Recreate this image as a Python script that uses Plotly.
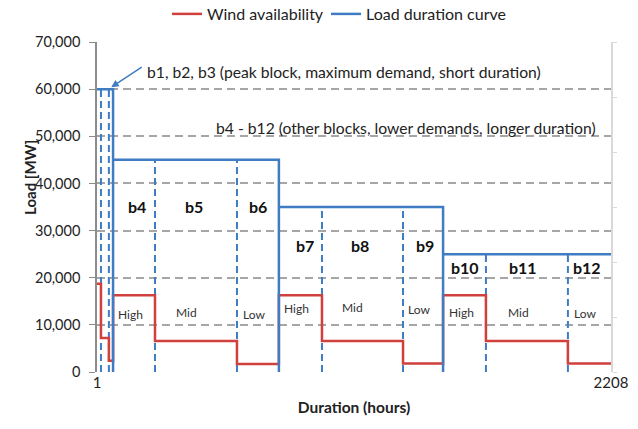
import plotly.graph_objects as go

# ---------------- data ----------------
block_names = ["b1", "b2", "b3", "b4", "b5", "b6", "b7", "b8", "b9", "b10", "b11", "b12"]
block_edges_hours = [1, 18, 52, 70, 250, 602, 782, 967, 1315, 1487, 1671, 2023, 2208]
load_mw = [60000, 60000, 60000, 45000, 45000, 45000, 35000, 35000, 35000, 25000, 25000, 25000]
wind_mw = [18700, 7200, 2400, 16300, 6600, 1700, 16300, 6600, 1800, 16300, 6600, 1800]

# block label positions (hours, MW)
block_label_x = [173, 418, 692, 894, 1130, 1410, 1581, 1830, 2105]
block_label_y = [35200, 35200, 35200, 26900, 26900, 26900, 22100, 22100, 22100]

level_labels = ["High", "Mid", "Low", "High", "Mid", "Low", "High", "Mid", "Low"]
level_label_x = [146, 387, 675, 856, 1099, 1385, 1567, 1810, 2096]
level_label_y = [12300, 12600, 12100, 13400, 13600, 13300, 12600, 12600, 12400]

x_tick_vals = [1, 2208]
y_tick_vals = [0, 10000, 20000, 30000, 40000, 50000, 60000, 70000]

BLUE = "#3f7cc4"
RED = "#d0403c"
GRID = "#a6a6a6"
FONT = "Lato"

W, H = 638, 429
PL, PT, PW, PH = 97, 42, 514, 330

# ---------------- build paths ----------------
lx, ly = [block_edges_hours[0]], [load_mw[0]]
for i in range(len(load_mw)):
    e = block_edges_hours[i + 1]
    if i + 1 < len(load_mw) and load_mw[i + 1] != load_mw[i]:
        lx += [e, e, e]
        ly += [load_mw[i], 0, load_mw[i + 1]]
lx.append(block_edges_hours[-1])
ly.append(load_mw[-1])

dx, dy = [], []
for i in range(len(load_mw) - 1):
    if load_mw[i + 1] == load_mw[i]:
        e = block_edges_hours[i + 1]
        dx += [e, e, None]
        dy += [0, load_mw[i], None]

wx = block_edges_hours[:-1] + [block_edges_hours[-1]]
wy = wind_mw + [wind_mw[-1]]

fig = go.Figure()
fig.add_trace(go.Scatter(x=dx, y=dy, mode="lines", showlegend=False,
                         line=dict(color=BLUE, width=2, dash="7px,4px"), hoverinfo="skip"))
fig.add_trace(go.Scatter(x=wx, y=wy, mode="lines", name="Wind availability", legend="legend",
                         line=dict(color=RED, width=2.5, shape="hv")))
fig.add_trace(go.Scatter(x=lx, y=ly, mode="lines", name="Load duration curve", legend="legend2",
                         line=dict(color=BLUE, width=2.5)))
fig.add_trace(go.Scatter(x=[None], y=[None], yaxis="y2", showlegend=False))


def px(xp):
    return (xp - PL) / PW


def py(yp):
    return (PT + PH - yp) / PH


ann = []
for name, x, y in zip(block_names[3:], block_label_x, block_label_y):
    ann.append(dict(x=x, y=y, text="<b>" + name + "</b>", showarrow=False,
                    font=dict(family=FONT, size=16, color="#111111")))
for t, x, y in zip(level_labels, level_label_x, level_label_y):
    ann.append(dict(x=x, y=y, text=t, showarrow=False,
                    font=dict(family=FONT, size=12, color="#333333")))

ann.append(dict(xref="paper", yref="paper", x=px(343.5), y=py(61), xanchor="center",
                text="b1, b2, b3 (peak block, maximum demand, short duration)",
                showarrow=False, font=dict(family=FONT, size=15.7, color="#222222")))
ann.append(dict(xref="paper", yref="paper", x=px(406), y=py(117), xanchor="center",
                text="b4 - b12 (other blocks, lower demands, longer duration)",
                showarrow=False, font=dict(family=FONT, size=15.7, color="#222222")))
ann.append(dict(x=62, y=60400, text="", showarrow=True, ax=32, ay=-21,
                arrowhead=2, arrowsize=1, arrowwidth=1.5, arrowcolor=BLUE))
ann.append(dict(xref="paper", yref="paper", x=px(30), y=py(178),
                xanchor="center", yanchor="middle",
                text="<b>Load [MW]</b>", textangle=-90, showarrow=False,
                font=dict(family=FONT, size=15, color="#222222")))

legend_font = dict(family=FONT, size=16, color="#222222")

fig.update_layout(
    width=W, height=H,
    margin=dict(l=PL, r=W - PL - PW, t=PT, b=H - PT - PH, autoexpand=False),
    paper_bgcolor="white", plot_bgcolor="white",
    font=dict(family=FONT, size=15, color="#222222"),
    xaxis=dict(range=[1, 2208], tickvals=x_tick_vals, ticktext=[str(v) for v in x_tick_vals],
               showgrid=False, zeroline=False, showline=False, ticks="",
               tickfont=dict(size=15),
               title=dict(text="<b>Duration (hours)</b>", standoff=12,
                          font=dict(family=FONT, size=15.5, color="#222222"))),
    yaxis=dict(range=[0, 70000], tickvals=y_tick_vals, tickformat=",d",
               tickfont=dict(size=14.5),
               showgrid=True, gridcolor=GRID, gridwidth=1.5, griddash="8px,5px",
               zeroline=False, showline=True, linecolor="#8c8c8c", linewidth=1.5,
               ticks="outside", ticklen=6, tickcolor="#8c8c8c", ticklabelstandoff=6),
    yaxis2=dict(overlaying="y", side="right", range=[0, 3], dtick=0.5,
                showgrid=False, zeroline=False, showline=True, linecolor="#d9d9d9",
                linewidth=1.5, ticks="outside", ticklen=4, tickcolor="#d9d9d9",
                showticklabels=False),
    legend=dict(orientation="h", x=px(167), xanchor="left", y=py(14), yanchor="middle",
                font=legend_font, bgcolor="rgba(0,0,0,0)"),
    legend2=dict(orientation="h", x=px(326), xanchor="left", y=py(14), yanchor="middle",
                 font=legend_font, bgcolor="rgba(0,0,0,0)"),
    annotations=ann,
)

fig.write_html("out.html", config={"displayModeBar": False},
               post_script="document.body.style.margin='0px';")
